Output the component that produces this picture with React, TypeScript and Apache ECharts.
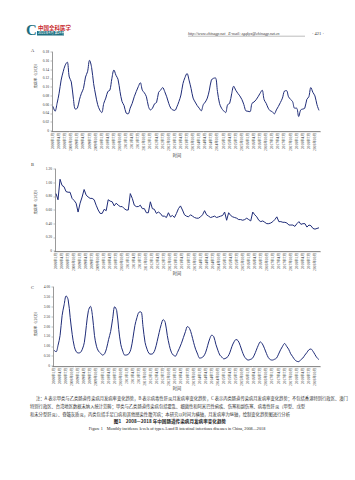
import React, { useEffect, useRef } from "react";
import * as echarts from "echarts";

const years = [2008, 2009, 2010, 2011, 2012, 2013, 2014, 2015, 2016, 2017, 2018];
const monthNums = [1, 2, 3, 4, 5, 6, 7, 8, 9, 10, 11, 12];

// Panel A: monthly incidence (/10万)
const incidenceA = [
  0.056, 0.045, 0.063, 0.086, 0.116, 0.135, 0.150, 0.157, 0.123, 0.112, 0.075, 0.050,
  0.052, 0.071, 0.086, 0.097, 0.123, 0.135, 0.161, 0.145, 0.108, 0.082, 0.060, 0.048,
  0.042, 0.063, 0.075, 0.090, 0.093, 0.120, 0.139, 0.127, 0.118, 0.090, 0.067, 0.058,
  0.041, 0.039, 0.052, 0.063, 0.078, 0.090, 0.101, 0.110, 0.093, 0.087, 0.078, 0.056,
  0.048, 0.052, 0.062, 0.065, 0.088, 0.093, 0.099, 0.090, 0.078, 0.063, 0.052, 0.048,
  0.047, 0.055, 0.067, 0.082, 0.108, 0.122, 0.131, 0.116, 0.097, 0.075, 0.066, 0.058,
  0.052, 0.046, 0.060, 0.066, 0.075, 0.093, 0.116, 0.120, 0.121, 0.090, 0.063, 0.052,
  0.046, 0.042, 0.060, 0.063, 0.085, 0.102, 0.093, 0.086, 0.080, 0.072, 0.060, 0.046,
  0.045, 0.044, 0.063, 0.066, 0.071, 0.078, 0.086, 0.093, 0.071, 0.063, 0.052, 0.046,
  0.044, 0.039, 0.048, 0.056, 0.065, 0.075, 0.091, 0.092, 0.078, 0.072, 0.067, 0.052,
  0.052, 0.033, 0.048, 0.050, 0.052, 0.072, 0.078, 0.099, 0.088, 0.080, 0.060, 0.047,
];

// Panel B
const incidenceB = [
  0.84, 0.75, 1.05, 0.96, 0.94, 0.87, 0.86, 0.86, 0.77, 0.74, 0.70, 0.57,
  0.70, 0.79, 0.90, 0.82, 0.79, 0.77, 0.77, 0.75, 0.67, 0.60, 0.55, 0.55,
  0.61, 0.59, 0.75, 0.73, 0.72, 0.66, 0.70, 0.67, 0.65, 0.65, 0.62, 0.60,
  0.60, 0.84, 0.77, 0.67, 0.65, 0.65, 0.67, 0.62, 0.62, 0.56, 0.56, 0.72,
  0.62, 0.61, 0.55, 0.57, 0.55, 0.51, 0.51, 0.49, 0.56, 0.50, 0.52, 0.49,
  0.55, 0.62, 0.66, 0.60, 0.53, 0.51, 0.50, 0.53, 0.51, 0.49, 0.48, 0.48,
  0.50, 0.53, 0.59, 0.53, 0.51, 0.49, 0.50, 0.51, 0.49, 0.50, 0.51, 0.52,
  0.57, 0.45, 0.56, 0.52, 0.50, 0.49, 0.48, 0.46, 0.46, 0.45, 0.46, 0.48,
  0.46, 0.44, 0.57, 0.53, 0.50, 0.45, 0.43, 0.44, 0.42, 0.40, 0.40, 0.41,
  0.43, 0.46, 0.50, 0.43, 0.43, 0.42, 0.42, 0.41, 0.38, 0.38, 0.38, 0.36,
  0.40, 0.43, 0.39, 0.40, 0.40, 0.35, 0.38, 0.37, 0.33, 0.32, 0.33, 0.34,
];

// Panel C
const incidenceC = [
  0.80, 0.72, 1.05, 1.55, 2.55, 3.10, 3.55, 3.35, 2.45, 1.60, 1.00, 0.72,
  0.66, 0.68, 0.85, 1.20, 2.05, 2.80, 3.02, 2.55, 1.55, 1.00, 0.75, 0.65,
  0.55, 0.62, 0.90, 1.35, 1.75, 2.40, 3.00, 2.80, 1.85, 1.10, 0.75, 0.55,
  0.56, 0.62, 0.85, 1.40, 2.05, 2.45, 2.72, 2.74, 2.00, 1.20, 0.85, 0.63,
  0.60, 0.64, 0.85, 1.25, 1.70, 2.10, 2.35, 2.20, 1.55, 1.05, 0.70, 0.55,
  0.50, 0.68, 0.90, 1.15, 1.45, 1.75, 2.00, 1.90, 1.60, 1.20, 0.85, 0.60,
  0.40, 0.42, 0.50, 0.70, 1.05, 1.38, 1.56, 1.48, 1.10, 0.80, 0.55, 0.45,
  0.36, 0.40, 0.48, 0.70, 1.00, 1.22, 1.34, 1.28, 1.05, 0.75, 0.50, 0.36,
  0.30, 0.33, 0.38, 0.55, 0.80, 1.05, 1.22, 1.12, 0.90, 0.64, 0.42, 0.32,
  0.30, 0.34, 0.40, 0.60, 0.82, 1.00, 1.14, 1.00, 0.85, 0.62, 0.47, 0.32,
  0.24, 0.22, 0.32, 0.40, 0.55, 0.68, 0.82, 0.86, 0.75, 0.58, 0.42, 0.32,
];

const yMaxes = [0.18, 1.2, 4.0];
const yIntervals = [0.02, 0.2, 0.5];
const panelLetters = ["A", "B", "C"];
const yAxisName = "发病率（/10万）";
const xAxisName = "时间";

const categories: string[] = [];
years.forEach((y) => monthNums.forEach((m) => categories.push(`${y}年${m}月`)));

const FONT = "'Liberation Serif', 'Noto Sans CJK SC', serif";
const LINE_COLOR = "#1f2c78";

export default function App() {
  const ref = useRef<HTMLDivElement>(null);
  useEffect(() => {
    if (!ref.current) return;
    const chart = echarts.init(ref.current, undefined, { renderer: "svg" });
    const grids = [
      { left: 52, top: 52, width: 268, height: 79 },
      { left: 55, top: 169, width: 265, height: 82 },
      { left: 53, top: 287, width: 267, height: 79 },
    ];
    const seriesData = [incidenceA, incidenceB, incidenceC];
    const smooths = [0.35, false, 0.35];
    const yNameCenters = [75, 201, 323];
    const letterY = [48, 162, 285];
    const xNameY = [155, 273, 388];

    const graphic: any[] = [];
    // header
    graphic.push(
      { type: "text", left: 26, top: 22, style: { text: "C", font: "bold 15px 'Liberation Serif'", fill: "#1d6f80" } },
      { type: "text", left: 38, top: 25, style: { text: "中国全科医学", font: "bold 5.5px 'Noto Sans CJK SC'", fill: "#c8282d" } },
      { type: "rect", shape: { x: 37, y: 31, width: 27, height: 4.5 }, style: { fill: "#1d6f80" } },
      { type: "text", left: 38, top: 31.3, style: { text: "2021年4月 第24卷 第12期", font: "3.3px 'Noto Sans CJK SC'", fill: "#ffffff" } },
      { type: "text", left: 188, top: 31, style: { text: "http://www.chinagp.net   E-mail: zgqkyx@chinagp.net.cn", font: "italic 4px 'Liberation Serif'", fill: "#333" } },
      { type: "line", shape: { x1: 188, y1: 36.2, x2: 305, y2: 36.2 }, style: { stroke: "#555", lineWidth: 0.4 } },
      { type: "text", left: 312, top: 31, style: { text: "· 421 ·", font: "4.5px 'Liberation Serif'", fill: "#333" } }
    );
    for (let i = 0; i < 3; i++) {
      graphic.push({
        type: "text", left: 31, top: letterY[i],
        style: { text: panelLetters[i], font: `4.5px ${FONT}`, fill: "#333" },
      });
      graphic.push({
        type: "text", x: 35, y: yNameCenters[i], rotation: Math.PI / 2,
        style: { text: yAxisName, font: `3.6px 'Noto Sans CJK SC'`, fill: "#333", align: "center", verticalAlign: "middle" },
      });
      graphic.push({
        type: "text", x: 177, y: xNameY[i],
        style: { text: xAxisName, font: `4.2px 'Noto Sans CJK SC'`, fill: "#333", align: "center", verticalAlign: "middle" },
      });
    }
    const notes = [
      "注：A 表示甲类与乙类肠道传染病月发病率变化趋势，B 表示病毒性肝炎月发病率变化趋势，C 表示丙类肠道传染病月发病率变化趋势；不包括香港特别行政区、澳门",
      "特别行政区、台湾地区数据未纳入统计范畴；甲类与乙类肠道传染病包括霍乱、细菌性和阿米巴性痢疾、伤寒和副伤寒、病毒性肝炎（甲型、戊型",
      "和未分型肝炎）、脊髓灰质炎，丙类包括手足口病和其他感染性腹泻病；本研究以时间为横轴，月发病率为纵轴，绘制变化趋势图进行分析",
    ];
    const noteY = [398, 406, 414];
    notes.forEach((t, i) => {
      graphic.push({
        type: "text", x: i === 0 ? 36 : 30, y: noteY[i],
        style: { text: t, font: `4.3px 'Noto Sans CJK SC'`, fill: "#333", verticalAlign: "middle" },
      });
    });
    graphic.push({
      type: "text", x: 170, y: 421,
      style: { text: "图1　2008—2018 年中国肠道传染病月发病率变化趋势", font: `bold 4.6px 'Noto Sans CJK SC'`, fill: "#222", align: "center", verticalAlign: "middle" },
    });
    graphic.push({
      type: "text", x: 177, y: 428,
      style: { text: "Figure 1　Monthly incidence levels of types A and B intestinal infectious diseases in China, 2008—2018", font: `4.2px 'Liberation Serif'`, fill: "#222", align: "center", verticalAlign: "middle" },
    });

    const option: any = {
      animation: false,
      backgroundColor: "#ffffff",
      grid: grids.map((g) => ({ ...g, containLabel: false })),
      xAxis: grids.map((_, i) => ({
        type: "category",
        gridIndex: i,
        data: categories,
        boundaryGap: true,
        axisLine: { show: true, lineStyle: { color: "#555", width: 0.6 } },
        axisTick: { show: true, interval: 0, length: 1.5, lineStyle: { color: "#555", width: 0.4 } },
        axisLabel: { interval: 2, rotate: 90, fontSize: 3.6, color: "#333", margin: 2, fontFamily: FONT },
        splitLine: { show: false },
      })),
      yAxis: grids.map((_, i) => ({
        type: "value",
        gridIndex: i,
        min: 0,
        max: yMaxes[i],
        interval: yIntervals[i],
        axisLine: { show: true, lineStyle: { color: "#555", width: 0.6 } },
        axisTick: { show: true, length: 1.5, lineStyle: { color: "#555", width: 0.4 } },
        splitLine: { show: false },
        axisLabel: {
          fontSize: 3.6, color: "#333", margin: 3, fontFamily: FONT,
          formatter: (v: number) => (Math.abs(v) < 1e-9 ? "0" : v.toFixed(2)),
        },
      })),
      series: grids.map((_, i) => ({
        type: "line",
        xAxisIndex: i,
        yAxisIndex: i,
        data: seriesData[i],
        smooth: smooths[i],
        symbol: "none",
        lineStyle: { color: LINE_COLOR, width: 1 },
      })),
      graphic,
    };
    chart.setOption(option);
    return () => chart.dispose();
  }, []);
  return (
    <div
      ref={ref}
      style={{ position: "absolute", left: 0, top: 0, width: 355, height: 480, background: "#fff" }}
    />
  );
}
